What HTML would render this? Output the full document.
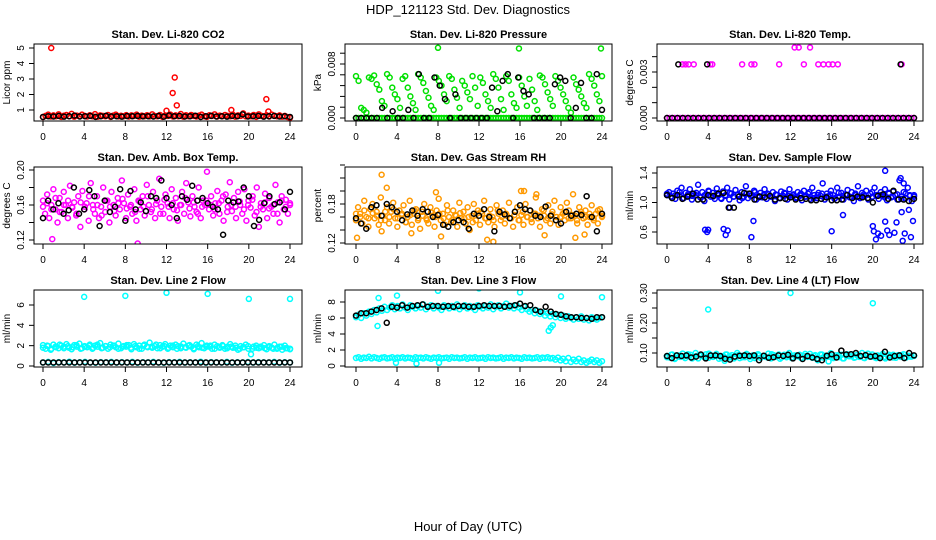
<!DOCTYPE html>
<html><head><meta charset="utf-8"><style>
html,body{margin:0;padding:0;background:#fff}
svg{display:block;font-family:"Liberation Sans",Arial,sans-serif}
</style></head><body>
<svg id="c" width="936" height="540" viewBox="0 0 936 540" xmlns="http://www.w3.org/2000/svg">
<text x="468" y="14" text-anchor="middle" font-size="13">HDP_121123  Std. Dev. Diagnostics</text>
<text x="468" y="531" text-anchor="middle" font-size="13">Hour of Day (UTC)</text>
</svg>
<script>
// ---------- data ----------
const hourTicks = [0,4,8,12,16,20,24];
const co2Red = [0.55,0.62,0.7,0.58,0.65,0.6,0.72,0.56,0.63,0.68,0.6,0.75,0.57,0.64,0.6,0.7,0.62,0.58,0.66,0.6,0.73,0.57,0.65,0.62,0.6,0.68,0.56,0.64,0.7,0.59,0.63,0.6,0.67,0.58,0.65,0.62,0.7,0.57,0.64,0.6,0.66,0.59,0.72,0.61,0.6,0.68,0.56,0.64,0.62,0.7,0.58,0.65,0.6,0.74,0.57,0.66,0.6,0.68,0.62,0.58,0.64,0.7,0.6,0.56,0.66,0.62,0.72,0.58,0.64,0.6,0.68,0.62,0.6,0.7,0.57,0.65,0.62,0.78,0.59,0.64,0.6,0.68,0.56,0.72,0.62,0.6,0.66,0.58,0.7,0.63,0.6,0.65,0.57,0.62,0.55,0.5];
const co2Blk = [0.55,0.6,0.58,0.62,0.57,0.6,0.64,0.58,0.6,0.62,0.56,0.6,0.63,0.58,0.6,0.57,0.61,0.6,0.62,0.59,0.6,0.58,0.62,0.57,0.65,0.6,0.62,0.58,0.6,0.63,0.55,0.6,0.62,0.58,0.6,0.57,0.62,0.6,0.72,0.58,0.6,0.62,0.57,0.6,0.62,0.58,0.6,0.55];
const co2OutH = [0.8,12.0,12.6,12.8,13.0,18.3,21.7,21.9];
const co2OutV = [5.0,0.95,2.1,3.1,1.3,1.0,1.7,0.9];

const presGreen = [0.0062,0.0055,0.0015,0.0012,0.0008,0.006,0.0058,0.0063,0.005,0.0042,0.0025,0.0018,0.0065,0.006,0.0045,0.0035,0.0028,0.0015,0.0058,0.0062,0.0045,0.0032,0.0022,0.0012,0.0065,0.006,0.0052,0.004,0.003,0.0018,0.0012,0.006,0.0055,0.0048,0.0035,0.0025,0.0062,0.0058,0.0042,0.003,0.0015,0.0055,0.0048,0.0038,0.0028,0.0062,0.0045,0.0018,0.006,0.0052,0.0035,0.0025,0.0015,0.0065,0.0058,0.0045,0.0028,0.0012,0.0062,0.0055,0.0035,0.0022,0.0015,0.006,0.0048,0.0032,0.0018,0.0058,0.0042,0.0025,0.0012,0.0063,0.006,0.005,0.0038,0.0028,0.0018,0.0062,0.0055,0.0045,0.0035,0.0025,0.0015,0.0008,0.006,0.005,0.0042,0.0032,0.0022,0.0015,0.0065,0.0058,0.0048,0.0035,0.0025,0.0062];
const presGreenZero = [0,0,0,0,0,0,0,0,0,0,0,0,0,0,0,0,0,0,0,0,0,0,0,0,0,0,0,0,0,0,0,0,0,0,0,0,0,0,0,0,0,0,0,0,0,0,0,0,0,0,0,0,0,0,0,0,0,0,0,0,0,0,0,0,0,0,0,0,0,0,0,0,0,0,0,0,0,0,0,0,0,0,0,0,0,0,0,0,0,0,0,0,0,0,0,0];
const presOutH = [8.0,15.9,23.9];
const presOutV = [0.0104,0.0103,0.0103];
const presBlk = [0,0,0,0,0,0.0015,0,0.001,0,0,0.0012,0,0.0065,0,0,0.006,0.0048,0.0028,0,0.0035,0,0,0,0,0,0,0.0045,0.001,0.0055,0.0065,0,0.006,0.004,0.0035,0,0,0,0,0.005,0.006,0.0055,0,0.0015,0.0052,0,0,0.0065,0.0012];

const tempMagZero = [0,0,0,0,0,0,0,0,0,0,0,0,0,0,0,0,0,0,0,0,0,0,0,0,0,0,0,0,0,0,0,0,0,0,0,0,0,0,0,0,0,0,0,0,0,0,0,0,0,0,0,0,0,0,0,0,0,0,0,0,0,0,0,0,0,0,0,0,0,0,0,0,0,0,0,0,0,0,0,0,0,0,0,0,0,0,0,0,0,0,0,0,0,0,0,0];
const tempMagHiH = [1.5,1.8,2.1,2.6,4.2,4.4,7.3,8.2,8.5,10.9,12.4,12.8,13.3,13.9,14.7,15.2,15.7,16.1,16.6,22.8];
const tempMagHiV = [0.0035,0.0035,0.0035,0.0035,0.0035,0.0035,0.0035,0.0035,0.0035,0.0035,0.0046,0.0046,0.0035,0.0046,0.0035,0.0035,0.0035,0.0035,0.0035,0.0035];
const tempBlk = [0,0,0,0,0,0,0,0,0,0,0,0,0,0,0,0,0,0,0,0,0,0,0,0,0,0,0,0,0,0,0,0,0,0,0,0,0,0,0,0,0,0,0,0,0,0,0,0];
const tempBlkHiH = [1.1,3.9,22.7];
const tempBlkHiV = [0.0035,0.0035,0.0035];

const ambMag = [0.165,0.15,0.172,0.145,0.16,0.178,0.155,0.14,0.168,0.152,0.175,0.16,0.145,0.182,0.158,0.163,0.148,0.17,0.135,0.176,0.155,0.162,0.142,0.185,0.16,0.15,0.17,0.145,0.158,0.18,0.152,0.165,0.14,0.175,0.16,0.148,0.168,0.155,0.188,0.162,0.145,0.172,0.158,0.15,0.178,0.142,0.165,0.155,0.17,0.148,0.183,0.16,0.152,0.175,0.145,0.165,0.19,0.158,0.15,0.172,0.162,0.145,0.178,0.155,0.168,0.142,0.16,0.175,0.15,0.185,0.163,0.147,0.17,0.158,0.152,0.18,0.145,0.165,0.16,0.198,0.155,0.17,0.148,0.162,0.176,0.15,0.165,0.142,0.172,0.158,0.186,0.153,0.168,0.145,0.175,0.16,0.15,0.178,0.142,0.165,0.157,0.17,0.148,0.18,0.135,0.162,0.155,0.173,0.145,0.168,0.158,0.15,0.183,0.163,0.14,0.17,0.155,0.166,0.15,0.16];
const ambMag2 = [0.158,0.162,0.155,0.168,0.152,0.16,0.165,0.157,0.15,0.163,0.158,0.17,0.155,0.16,0.148,0.165,0.158,0.153,0.162,0.167,0.156,0.16,0.152,0.164,0.158,0.17,0.155,0.161,0.15,0.166,0.158,0.162,0.154,0.16,0.168,0.156,0.163,0.15,0.158,0.165,0.16,0.155,0.162,0.17,0.152,0.16,0.158,0.164,0.155,0.16,0.166,0.152,0.158,0.163,0.156,0.16,0.15,0.165,0.158,0.162];
const ambBlk = [0.145,0.165,0.155,0.162,0.15,0.154,0.18,0.15,0.155,0.177,0.17,0.136,0.165,0.152,0.158,0.178,0.142,0.176,0.155,0.163,0.153,0.17,0.168,0.188,0.168,0.16,0.145,0.17,0.166,0.182,0.165,0.168,0.162,0.158,0.155,0.126,0.165,0.163,0.164,0.18,0.17,0.136,0.143,0.162,0.17,0.161,0.163,0.155,0.175];
const ambMagOutH = [0.9,3.6,9.2];
const ambMagOutV = [0.121,0.108,0.116];

const rhOrange = [0.155,0.175,0.165,0.15,0.185,0.16,0.145,0.172,0.18,0.158,0.168,0.148,0.19,0.162,0.155,0.175,0.15,0.168,0.182,0.158,0.145,0.17,0.163,0.178,0.152,0.16,0.185,0.148,0.165,0.172,0.155,0.142,0.168,0.18,0.158,0.15,0.175,0.162,0.145,0.17,0.188,0.155,0.165,0.148,0.178,0.16,0.152,0.17,0.163,0.145,0.182,0.158,0.168,0.15,0.175,0.14,0.162,0.18,0.155,0.17,0.148,0.165,0.185,0.158,0.152,0.172,0.16,0.145,0.178,0.165,0.155,0.17,0.15,0.162,0.182,0.158,0.145,0.168,0.175,0.155,0.163,0.148,0.18,0.16,0.17,0.152,0.165,0.19,0.158,0.145,0.172,0.162,0.155,0.178,0.15,0.168,0.185,0.16,0.148,0.175,0.165,0.155,0.182,0.17,0.158,0.195,0.162,0.15,0.175,0.165,0.158,0.17,0.148,0.16,0.178,0.155,0.165,0.15,0.172,0.16];
const rhOrange2 = [0.165,0.16,0.17,0.158,0.166,0.162,0.155,0.168,0.16,0.172,0.158,0.165,0.152,0.163,0.17,0.158,0.162,0.155,0.167,0.16,0.165,0.158,0.17,0.155,0.162,0.166,0.158,0.16,0.152,0.165,0.168,0.158,0.162,0.155,0.17,0.16,0.165,0.158,0.163,0.155,0.168,0.16,0.157,0.165,0.162,0.17,0.158,0.164,0.155,0.16,0.167,0.158,0.163,0.155,0.168,0.16,0.165,0.158,0.17,0.162];
const rhOutH = [0.1,2.5,3.0,5.4,7.8,8.3,12.8,13.4,16.1,16.4,17.6,18.4,21.4,22.3,2.5];
const rhOutV = [0.128,0.138,0.205,0.135,0.198,0.13,0.125,0.122,0.2,0.2,0.195,0.132,0.128,0.133,0.225];
const rhBlk = [0.158,0.15,0.142,0.175,0.178,0.162,0.18,0.175,0.168,0.155,0.164,0.17,0.162,0.172,0.168,0.16,0.163,0.148,0.145,0.152,0.155,0.152,0.142,0.165,0.162,0.172,0.16,0.138,0.168,0.164,0.158,0.168,0.178,0.172,0.17,0.162,0.16,0.176,0.162,0.155,0.15,0.168,0.162,0.165,0.163,0.192,0.16,0.138,0.165];

const flowBlue = [1.1,1.14,1.08,1.12,1.05,1.16,1.1,1.2,1.06,1.13,1.09,1.18,1.04,1.12,1.1,1.24,1.07,1.14,1.02,1.11,1.16,1.08,1.13,1.05,1.19,1.1,1.06,1.15,1.09,1.2,1.04,1.12,1.08,1.17,1.1,1.03,1.14,1.08,1.22,1.06,1.12,1.1,1.16,1.04,1.09,1.13,1.07,1.18,1.05,1.11,1.08,1.14,1.02,1.1,1.06,1.15,1.09,1.12,1.04,1.18,1.08,1.11,1.06,1.14,1.1,1.03,1.16,1.08,1.12,1.05,1.2,1.1,1.06,1.13,1.09,1.26,1.04,1.12,1.08,1.16,1.1,1.06,1.2,1.08,1.13,1.04,1.11,1.17,1.07,1.14,1.02,1.1,1.22,1.06,1.13,1.09,1.16,1.04,1.12,1.08,1.2,1.1,1.05,1.14,1.09,1.18,1.03,1.12,1.07,1.15,1.1,1.04,1.3,1.08,1.14,1.06,1.2,1.1,1.02,1.08];
const flowBlue2 = [1.12,1.08,1.1,1.14,1.06,1.11,1.09,1.13,1.07,1.1,1.15,1.08,1.12,1.05,1.1,1.13,1.08,1.11,1.06,1.12,1.09,1.14,1.07,1.1,1.12,1.08,1.11,1.06,1.13,1.09,1.1,1.07,1.12,1.08,1.14,1.06,1.1,1.12,1.08,1.11,1.05,1.13,1.09,1.1,1.07,1.12,1.08,1.11,1.06,1.14,1.09,1.1,1.07,1.13,1.08,1.11,1.05,1.12,1.09,1.1];
const flowBlueOutH = [3.7,3.9,4.0,5.5,5.7,5.9,6.1,8.2,8.4,16.0,17.1,20.0,20.1,20.3,20.5,20.8,21.2,21.4,21.6,22.1,22.3,22.8,22.9,23.1,23.5,23.7,23.9,21.2,22.7,23.0];
const flowBlueOutV = [0.63,0.6,0.63,0.64,0.56,0.62,0.93,0.53,0.75,0.61,0.83,0.68,0.61,0.5,0.58,0.55,0.74,0.62,0.56,0.59,0.73,0.87,0.48,0.58,0.9,0.53,0.75,1.43,1.33,1.26];
const flowBlk = [1.1,1.06,1.1,1.05,1.08,1.12,1.04,1.04,1.1,1.09,1.12,1.13,0.93,0.93,1.08,1.13,1.12,1.04,1.08,1.07,1.09,1.04,1.06,1.05,1.07,1.04,1.06,1.05,1.03,1.03,1.05,1.07,1.03,1.03,1.04,1.1,1.06,1.08,1.07,1.06,1.0,1.09,1.11,1.05,1.16,1.04,1.04,1.02,1.05];

const l2High = [2.05,1.7,1.95,1.6,2.1,1.85,1.75,2.0,1.9,2.15,1.8,1.65,2.05,1.9,2.2,1.75,1.95,1.85,2.1,1.7,2.0,1.9,2.25,1.8,1.95,1.7,2.1,2.0,1.85,2.2,1.75,1.95,1.9,2.05,1.65,2.15,1.85,2.0,1.7,2.1,1.9,2.3,1.8,1.95,1.75,2.05,1.9,2.15,1.7,2.0,1.85,2.1,1.95,1.75,2.2,1.8,2.0,1.9,1.65,2.1,1.85,2.25,1.75,2.0,1.9,1.7,2.1,1.95,1.8,2.05,1.7,1.9,2.15,1.8,2.0,1.6,1.95,1.85,2.1,1.7,1.15,1.9,2.0,1.75,1.85,2.05,1.65,1.95,1.8,2.1,1.7,1.9,1.6,2.0,1.75,1.65];
const l2High2 = [1.8,2.0,1.7,1.9,2.1,1.75,1.95,1.85,2.05,1.7,1.9,2.0,1.8,2.1,1.75,1.95,1.85,2.0,1.7,1.9,2.05,1.8,1.95,1.7,2.0,1.85,1.9,2.1,1.75,1.95,1.8,2.0,1.7,1.9,1.85,2.05,1.75,1.95,1.8,1.9,2.0,1.7,1.85,1.95,1.75,1.9,1.8,1.7,1.85,1.95,1.7,1.8,1.9,1.75,1.85,1.7,1.8,1.9,1.75,1.7];
const l2Low = [0.35,0.4,0.3,0.38,0.35,0.42,0.33,0.37,0.4,0.35,0.32,0.38,0.36,0.4,0.34,0.38,0.35,0.41,0.33,0.37,0.36,0.4,0.35,0.32,0.38,0.36,0.4,0.34,0.37,0.35,0.42,0.33,0.38,0.36,0.35,0.4,0.33,0.37,0.35,0.39,0.34,0.38,0.36,0.35,0.4,0.33,0.37,0.35];
const l2OutH = [4.0,8.0,12.0,16.0,20.0,24.0];
const l2OutV = [6.8,6.9,7.2,7.1,6.6,6.6];
const l2Blk = [0.35,0.35,0.35,0.35,0.35,0.35,0.35,0.35,0.35,0.35,0.35,0.35,0.35,0.35,0.35,0.35,0.35,0.35,0.35,0.35,0.35,0.35,0.35,0.35,0.35,0.35,0.35,0.35,0.35,0.35,0.35,0.35,0.35,0.35,0.35,0.35,0.35,0.35,0.35,0.35,0.35,0.35,0.35,0.35,0.35,0.35,0.35,0.35];

const l3High = [6.1,6.4,6.0,6.6,6.3,6.8,6.5,7.0,6.7,7.2,6.9,7.4,7.0,7.3,7.6,7.1,7.5,7.2,7.7,7.3,7.0,7.6,7.4,7.2,7.5,7.3,7.7,7.1,7.4,7.6,7.2,7.5,7.3,7.0,7.6,7.4,7.2,7.5,7.3,7.7,7.1,7.4,7.6,7.2,7.5,7.3,7.0,7.6,7.4,7.2,7.5,7.3,7.7,7.1,7.4,7.6,7.2,7.5,7.8,7.3,7.5,7.2,7.6,7.3,7.0,7.4,7.1,6.8,7.0,6.6,6.9,6.5,6.7,6.3,6.6,6.2,6.5,6.1,6.4,6.0,6.3,5.9,6.2,6.0,5.8,6.1,5.9,6.2,5.8,6.0,5.7,6.1,5.9,5.8,6.0,6.1];
const l3Low = [1.0,1.1,0.9,1.05,1.0,1.15,0.95,1.1,1.0,0.9,1.05,1.1,0.95,1.0,1.1,0.9,1.05,1.0,1.1,0.95,1.05,1.0,0.9,1.1,1.0,1.05,0.95,1.1,1.0,0.9,1.05,1.0,1.1,0.95,1.0,1.05,0.9,1.1,1.0,1.05,0.95,1.0,1.1,0.9,1.05,1.0,1.1,0.95,1.0,1.05,0.9,1.1,1.0,1.05,0.95,1.0,1.1,0.9,1.05,1.0,1.1,0.95,1.05,1.0,0.9,1.1,1.0,1.05,0.95,1.0,1.1,0.9,1.05,1.0,1.1,0.95,1.0,0.8,1.05,0.7,0.9,0.6,1.0,0.5,0.8,0.6,0.9,0.5,0.7,0.4,0.6,0.8,0.5,0.7,0.4,0.6];
const l3OutH = [2.1,2.2,4.0,8.0,12.0,16.0,18.8,19.0,19.2,20.0,24.0,3.9,5.9,8.1];
const l3OutV = [5.0,8.5,8.8,9.4,9.7,9.2,4.4,4.8,5.1,8.7,8.6,0.4,0.3,0.4];
const l3Blk = [6.3,6.6,6.6,6.8,7.0,7.2,5.4,7.4,7.3,7.6,7.3,7.5,7.6,7.7,7.4,7.5,7.5,7.4,7.5,7.4,7.5,7.5,7.4,7.4,7.5,7.6,7.5,7.5,7.5,7.4,7.5,7.6,7.8,7.5,7.6,7.0,6.8,7.4,6.8,6.5,6.4,6.2,6.1,6.1,6.0,6.0,5.9,6.1,6.1];

const l4Cyan = [0.09,0.085,0.095,0.08,0.092,0.087,0.098,0.083,0.09,0.094,0.086,0.1,0.082,0.091,0.088,0.096,0.084,0.092,0.089,0.097,0.081,0.09,0.087,0.095,0.085,0.093,0.088,0.1,0.083,0.091,0.086,0.094,0.08,0.092,0.089,0.096,0.084,0.09,0.087,0.098,0.082,0.093,0.088,0.095,0.085,0.091,0.086,0.1,0.083,0.092,0.089,0.094,0.081,0.09,0.087,0.097,0.084,0.093,0.076,0.095,0.085,0.091,0.088,0.099,0.083,0.092,0.086,0.094,0.082,0.09,0.089,0.096,0.084,0.093,0.087,0.1,0.083,0.091,0.088,0.095,0.085,0.092,0.086,0.097,0.082,0.09,0.089,0.094,0.084,0.093,0.087,0.096,0.085,0.091,0.088,0.09];
const l4Cyan2 = [0.086,0.094,0.083,0.091,0.088,0.096,0.082,0.09,0.093,0.085,0.098,0.087,0.091,0.084,0.095,0.089,0.082,0.093,0.086,0.097,0.088,0.083,0.092,0.09,0.085,0.096,0.087,0.081,0.094,0.089,0.086,0.092,0.084,0.097,0.088,0.091,0.083,0.095,0.087,0.09,0.085,0.093,0.082,0.096,0.089,0.086,0.092,0.084,0.098,0.088,0.083,0.091,0.087,0.094,0.085,0.09,0.093,0.086,0.088,0.091];
const l4OutH = [4.0,12.0,20.0,5.6,15.7];
const l4OutV = [0.245,0.3,0.266,0.074,0.072];
const l4Blk = [0.09,0.083,0.092,0.09,0.092,0.085,0.088,0.095,0.082,0.092,0.092,0.09,0.081,0.078,0.088,0.091,0.092,0.09,0.092,0.076,0.091,0.084,0.086,0.092,0.09,0.094,0.082,0.092,0.08,0.09,0.085,0.08,0.076,0.091,0.096,0.085,0.108,0.095,0.096,0.1,0.09,0.093,0.088,0.09,0.083,0.104,0.085,0.09,0.092,0.083,0.1,0.092];

// ---------- layout ----------
const svg = document.getElementById('c');
const NS = 'http://www.w3.org/2000/svg';
const cols = [{l:34,r:302,x0:43,x24:290},{l:345,r:612,x0:356,x24:602},{l:657,r:923,x0:667,x24:914}];
const rows = [{t:44,b:121},{t:167,b:244},{t:290,b:367}];

function mk(tag, attrs, parent){
  const e = document.createElementNS(NS, tag);
  for (const k in attrs) e.setAttribute(k, attrs[k]);
  (parent||svg).appendChild(e);
  return e;
}

function panel(ci, ri, name, title, ylab, v0, p0, v1, p1, ticks, labels){
  const c = cols[ci], r = rows[ri];
  const g = mk('g', {});
  
  
  const xs = h => c.x0 + (c.x24 - c.x0) * h / 24;
  const ys = v => p0 + (p1 - p0) * (v - v0) / (v1 - v0);
  const clip = 'clip' + ci + ri;
  const cp = mk('clipPath', {id:clip}, g);
  mk('rect', {x:c.l, y:r.t, width:c.r-c.l, height:r.b-r.t}, cp);
  const pts = mk('g', {'clip-path':`url(#${clip})`}, g);
  const box = mk('rect', {x:c.l, y:r.t, width:c.r-c.l, height:r.b-r.t, fill:'none', stroke:'#000', 'stroke-width':1}, g);
  
  
  const t = mk('text', {x:(c.l+c.r)/2, y:r.t-6, 'text-anchor':'middle', 'font-size':11, 'font-weight':'bold'}, g);
  t.textContent = title;
  
  
  // x axis
  const xa = mk('g', {}, g);
  
  
  hourTicks.forEach(h => {
    mk('line', {x1:xs(h), x2:xs(h), y1:r.b, y2:r.b+5, stroke:'#000'}, xa);
    const tl = mk('text', {x:xs(h), y:r.b+19, 'text-anchor':'middle', 'font-size':10}, xa);
    tl.textContent = h;
    
    
  });
  // y axis
  const ya = mk('g', {}, g);
  
  
  const ax = c.l;
  ticks.forEach((v, i) => {
    mk('line', {x1:ax-5, x2:ax, y1:ys(v), y2:ys(v), stroke:'#000'}, ya);
    if (labels[i]) {
      const lx = ax - 10;
      const yl = mk('text', {x:lx, y:ys(v), 'text-anchor':'middle', 'font-size':10, transform:`rotate(-90 ${lx} ${ys(v)})`}, ya);
      yl.textContent = labels[i];
      
      
    }
  });
  const tx = c.l - 24;
  const yt = mk('text', {x:tx, y:(r.t+r.b)/2, 'text-anchor':'middle', 'font-size':10, transform:`rotate(-90 ${tx} ${(r.t+r.b)/2})`}, g);
  yt.textContent = ylab;
  
  
  return {
    even(vals, color, sname){
      const n = vals.length;
      vals.forEach((v, i) => {
        const h = i * 24 / (n - 1);
        const p = mk('circle', {cx:xs(h), cy:ys(v), r:2.5, fill:'none', stroke:color, 'stroke-width':1.5}, pts);
        
        
      });
    },
    xy(hs, vals, color, sname){
      vals.forEach((v, i) => {
        const p = mk('circle', {cx:xs(hs[i]), cy:ys(v), r:2.5, fill:'none', stroke:color, 'stroke-width':1.5}, pts);
        
        
      });
    }
  };
}

const RED='#ff0000', GRN='#00e000', MAG='#ff00ff', ORG='#ff9900', BLU='#0000ff', CYN='#00ffff', BLK='#000';

let p = panel(0,0,'co2-panel','Stan. Dev. Li-820 CO2','Licor ppm',1,110,5,48,[1,2,3,4,5],['1','2','3','4','5']);
p.even(co2Red, RED, 'co2-point'); p.xy(co2OutH, co2OutV, RED, 'co2-outlier'); p.even(co2Blk, BLK, 'co2-black-point');

p = panel(1,0,'pressure-panel','Stan. Dev. Li-820 Pressure','kPa',0,118,0.008,64,[0,0.0016,0.0032,0.0048,0.0064,0.008,0.0096],['0.000','','','','','0.008','']);
p.even(presGreenZero, GRN, 'pressure-point'); p.even(presGreen, GRN, 'pressure-point'); p.xy(presOutH, presOutV, GRN, 'pressure-outlier'); p.even(presBlk, BLK, 'pressure-black-point');

p = panel(2,0,'temp-panel','Stan. Dev. Li-820 Temp.','degrees C',0,118,0.003,72,[0,0.001,0.002,0.003,0.004],['0.000','','','0.003','']);
p.even(tempMagZero, MAG, 'temp-point'); p.xy(tempMagHiH, tempMagHiV, MAG, 'temp-point'); p.even(tempBlk, BLK, 'temp-black-point'); p.xy(tempBlkHiH, tempBlkHiV, BLK, 'temp-black-point');

p = panel(0,1,'box-temp-panel','Stan. Dev. Amb. Box Temp.','degrees C',0.12,240,0.20,170,[0.12,0.14,0.16,0.18,0.20],['0.12','','0.16','','0.20']);
p.even(ambMag, MAG, 'box-temp-point'); p.even(ambMag2, MAG, 'box-temp-point'); p.xy(ambMagOutH, ambMagOutV, MAG, 'box-temp-outlier'); p.even(ambBlk, BLK, 'box-temp-black-point');

p = panel(1,1,'rh-panel','Stan. Dev. Gas Stream RH','percent',0.12,243,0.18,204,[0.12,0.14,0.16,0.18,0.20,0.22,0.24],['0.12','','','0.18','','','']);
p.even(rhOrange, ORG, 'rh-point'); p.even(rhOrange2, ORG, 'rh-point'); p.xy(rhOutH, rhOutV, ORG, 'rh-outlier'); p.even(rhBlk, BLK, 'rh-black-point');

p = panel(2,1,'sample-flow-panel','Stan. Dev. Sample Flow','ml/min',0.6,232,1.4,173,[0.6,0.8,1.0,1.2,1.4],['0.6','','1.0','','1.4']);
p.even(flowBlue, BLU, 'sample-flow-point'); p.even(flowBlue2, BLU, 'sample-flow-point'); p.xy(flowBlueOutH, flowBlueOutV, BLU, 'sample-flow-outlier'); p.even(flowBlk, BLK, 'sample-flow-black-point');

p = panel(0,2,'line2-panel','Stan. Dev. Line 2 Flow','ml/min',0,366,6,305,[0,2,4,6],['0','2','4','6']);
p.even(l2High, CYN, 'line2-point'); p.even(l2High2, CYN, 'line2-point'); p.even(l2Low, CYN, 'line2-point'); p.xy(l2OutH, l2OutV, CYN, 'line2-outlier'); p.even(l2Blk, BLK, 'line2-black-point');

p = panel(1,2,'line3-panel','Stan. Dev. Line 3 Flow','ml/min',0,366,8,302,[0,2,4,6,8],['0','2','4','6','8']);
p.even(l3High, CYN, 'line3-point'); p.even(l3Low, CYN, 'line3-point'); p.xy(l3OutH, l3OutV, CYN, 'line3-outlier'); p.even(l3Blk, BLK, 'line3-black-point');

p = panel(2,2,'line4-panel','Stan. Dev. Line 4 (LT) Flow','ml/min',0.10,353,0.30,293,[0.10,0.15,0.20,0.25,0.30],['0.10','','0.20','','0.30']);
p.even(l4Cyan, CYN, 'line4-point'); p.even(l4Cyan2, CYN, 'line4-point'); p.xy(l4OutH, l4OutV, CYN, 'line4-outlier'); p.even(l4Blk, BLK, 'line4-black-point');
</script>
</body></html>
